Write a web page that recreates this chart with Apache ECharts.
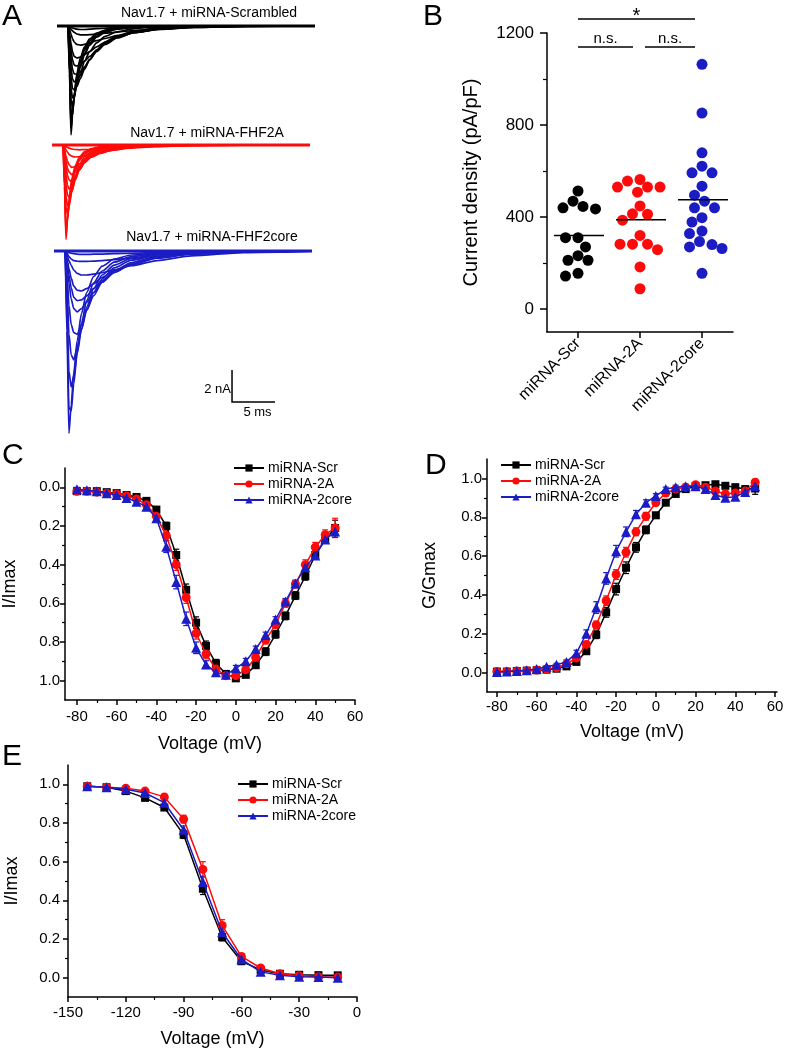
<!DOCTYPE html>
<html><head><meta charset="utf-8">
<script src="https://cdn.jsdelivr.net/npm/echarts@6/dist/echarts.min.js"></script>
<style>html,body{margin:0;padding:0;background:#fff}#c{width:787px;height:1052px}</style>
</head><body><div id="c"></div>
<script>
// ================= DATA =================
// Panel A: Na+ current traces (time in ms, current in nA)
const traceTimesScr = [0,1.28,1.45,1.63,1.8,2.0,2.3,2.7,3.2,3.8,4.6,5.6,7.0,9.0,12,16,22,30];
const tracesScr = [
 [0,0,-3.0,-6.8,-5.6,-4.3,-3.0,-2.0,-1.3,-0.8,-0.45,-0.25,-0.12,-0.05,-0.02,0,0,0],
 [0,0,-2.8,-6.4,-5.6,-4.4,-3.2,-2.2,-1.4,-0.9,-0.5,-0.28,-0.14,-0.06,-0.02,0,0,0],
 [0,0,-2.5,-6.0,-5.4,-4.4,-3.3,-2.3,-1.5,-0.95,-0.55,-0.3,-0.15,-0.06,-0.02,0,0,0],
 [0,0,-2.1,-5.4,-5.3,-4.5,-3.5,-2.5,-1.7,-1.1,-0.65,-0.36,-0.18,-0.07,-0.03,0,0,0],
 [0,0,-1.8,-4.6,-5.0,-4.5,-3.6,-2.6,-1.8,-1.2,-0.7,-0.4,-0.2,-0.08,-0.03,0,0,0],
 [0,0,-1.5,-3.9,-4.5,-4.3,-3.7,-3.0,-2.2,-1.6,-1.05,-0.65,-0.36,-0.16,-0.06,-0.02,0,0],
 [0,0,-1.2,-3.2,-3.9,-4.0,-3.8,-3.3,-2.7,-2.1,-1.5,-1.0,-0.6,-0.3,-0.12,-0.04,0,0],
 [0,0,-0.9,-2.6,-3.3,-3.5,-3.4,-3.1,-2.6,-2.1,-1.55,-1.1,-0.68,-0.35,-0.14,-0.04,0,0],
 [0,0,-0.7,-2.0,-2.7,-3.0,-3.0,-2.85,-2.55,-2.1,-1.6,-1.15,-0.75,-0.4,-0.17,-0.05,0,0],
 [0,0,-0.55,-1.5,-2.1,-2.45,-2.5,-2.4,-2.2,-1.9,-1.5,-1.1,-0.72,-0.4,-0.18,-0.06,-0.01,0],
 [0,0,-0.4,-1.1,-1.6,-1.9,-2.0,-1.95,-1.8,-1.6,-1.3,-1.0,-0.7,-0.42,-0.2,-0.07,-0.01,0],
 [0,0,-0.2,-0.5,-0.8,-1.0,-1.15,-1.2,-1.15,-1.05,-0.92,-0.78,-0.6,-0.4,-0.22,-0.09,-0.02,0],
 [0,0,-0.1,-0.2,-0.3,-0.4,-0.5,-0.55,-0.56,-0.54,-0.5,-0.45,-0.38,-0.28,-0.17,-0.08,-0.02,0],
 [0,0,-0.03,-0.08,-0.12,-0.16,-0.2,-0.22,-0.22,-0.2,-0.17,-0.14,-0.1,-0.06,-0.03,-0.01,0,0]
];
const traceTimes2A = [0,1.28,1.45,1.63,1.8,2.0,2.3,2.7,3.2,3.8,4.6,5.6,7.0,9.0,12,16,22,30];
const traces2A = [
 [0,0,-2.6,-5.9,-4.6,-3.3,-2.1,-1.3,-0.75,-0.42,-0.22,-0.11,-0.05,-0.02,0,0,0,0],
 [0,0,-2.4,-5.6,-4.7,-3.5,-2.3,-1.45,-0.85,-0.48,-0.26,-0.13,-0.06,-0.02,0,0,0,0],
 [0,0,-2.1,-5.2,-4.6,-3.6,-2.5,-1.6,-0.95,-0.55,-0.3,-0.15,-0.07,-0.03,-0.01,0,0,0],
 [0,0,-1.5,-3.9,-4.3,-3.8,-2.9,-1.95,-1.2,-0.72,-0.4,-0.21,-0.1,-0.04,-0.01,0,0,0],
 [0,0,-1.2,-3.2,-3.8,-3.6,-2.9,-2.1,-1.35,-0.85,-0.48,-0.26,-0.12,-0.05,-0.02,0,0,0],
 [0,0,-0.9,-2.5,-3.1,-3.3,-2.9,-2.2,-1.5,-0.95,-0.56,-0.31,-0.15,-0.06,-0.02,0,0,0],
 [0,0,-0.7,-1.9,-2.5,-2.75,-2.6,-2.1,-1.55,-1.05,-0.65,-0.38,-0.2,-0.08,-0.03,0,0,0],
 [0,0,-0.5,-1.4,-1.9,-2.2,-2.3,-2.0,-1.55,-1.1,-0.72,-0.44,-0.24,-0.1,-0.04,-0.01,0,0],
 [0,0,-0.35,-1.0,-1.45,-1.7,-1.85,-1.7,-1.4,-1.05,-0.75,-0.5,-0.3,-0.14,-0.06,-0.02,0,0],
 [0,0,-0.25,-0.7,-1.0,-1.25,-1.4,-1.35,-1.2,-0.98,-0.75,-0.52,-0.32,-0.16,-0.07,-0.02,0,0],
 [0,0,-0.1,-0.3,-0.45,-0.6,-0.7,-0.75,-0.72,-0.65,-0.55,-0.45,-0.33,-0.2,-0.1,-0.04,-0.01,0],
 [0,0,-0.04,-0.1,-0.15,-0.2,-0.25,-0.28,-0.3,-0.29,-0.27,-0.24,-0.2,-0.14,-0.08,-0.03,-0.01,0]
];
const traceTimes2core = [0,1.28,1.5,1.74,2.0,2.3,2.7,3.2,3.8,4.6,5.6,7.0,9.0,12,16,22,30];
const traces2core = [
 [0,0,-5,-11.4,-9.6,-7.6,-5.6,-3.9,-2.6,-1.6,-0.95,-0.5,-0.25,-0.1,-0.03,0,0],
 [0,0,-4,-9.8,-10.0,-8.3,-6.3,-4.5,-3.1,-2.0,-1.25,-0.7,-0.35,-0.14,-0.05,-0.01,0],
 [0,0,-3,-7.5,-8.5,-7.8,-6.4,-4.9,-3.5,-2.35,-1.5,-0.88,-0.46,-0.19,-0.07,-0.02,0],
 [0,0,-2,-5.2,-6.5,-6.8,-6.0,-4.9,-3.7,-2.6,-1.75,-1.05,-0.57,-0.25,-0.09,-0.02,0],
 [0,0,-1.3,-3.4,-4.6,-5.1,-5.2,-4.6,-3.7,-2.8,-1.95,-1.25,-0.72,-0.33,-0.13,-0.03,0],
 [0,0,-0.8,-2.0,-3.0,-3.6,-3.8,-3.6,-3.2,-2.6,-1.95,-1.35,-0.82,-0.4,-0.16,-0.04,0],
 [0,0,-0.6,-1.5,-2.3,-2.9,-3.1,-3.05,-2.8,-2.35,-1.85,-1.32,-0.85,-0.43,-0.18,-0.05,0],
 [0,0,-0.45,-1.1,-1.7,-2.2,-2.45,-2.5,-2.35,-2.05,-1.65,-1.22,-0.82,-0.44,-0.19,-0.05,-0.01],
 [0,0,-0.25,-0.6,-0.9,-1.2,-1.4,-1.5,-1.5,-1.45,-1.35,-1.18,-0.92,-0.6,-0.3,-0.1,-0.01],
 [0,0,-0.12,-0.35,-0.5,-0.6,-0.64,-0.65,-0.65,-0.63,-0.6,-0.54,-0.45,-0.32,-0.18,-0.07,-0.01],
 [0,0,-0.04,-0.1,-0.14,-0.17,-0.2,-0.21,-0.21,-0.2,-0.19,-0.17,-0.14,-0.1,-0.06,-0.03,0]
];
const traceTitles = ['Nav1.7 + miRNA-Scrambled','Nav1.7 + miRNA-FHF2A','Nav1.7 + miRNA-FHF2core'];
const scaleBarCurrent = 2;   // nA
const scaleBarTime = 5;      // ms

// Panel B: current density (pA/pF)
const groupsB = ['miRNA-Scr','miRNA-2A','miRNA-2core'];
const densityScr = [513,469,435,446,440,310,310,270,232,212,212,155,143];
const density2A = [563,530,530,556,530,508,448,414,412,386,320,282,282,282,258,183,88];
const density2core = [1064,852,679,621,592,592,534,495,469,440,440,378,397,339,328,293,263,270,280,155];
const medianB = [320,388,475];
const sigPairs = [[0,2],[0,1],[1,2]];
const sigLabels = ['*','n.s.','n.s.'];
const sigLevels = [1261,1139,1139];
const ticksB = [0,400,800,1200];
const minorTicksB = [200,600,1000];

// Panels C, D: voltage steps (mV)
const voltSteps = [-80,-75,-70,-65,-60,-55,-50,-45,-40,-35,-30,-25,-20,-15,-10,-5,0,5,10,15,20,25,30,35,40,45,50];
// Panel C: I/Imax
const ivScr   = [0.02,0.02,0.02,0.025,0.03,0.04,0.05,0.07,0.115,0.2,0.35,0.53,0.7,0.82,0.91,0.965,0.988,0.97,0.92,0.85,0.76,0.665,0.56,0.46,0.35,0.27,0.21];
const iv2A    = [0.02,0.02,0.025,0.03,0.035,0.045,0.06,0.09,0.15,0.25,0.4,0.57,0.755,0.862,0.94,0.974,0.974,0.943,0.88,0.79,0.71,0.6,0.5,0.4,0.31,0.245,0.21];
const iv2core = [0.01,0.015,0.02,0.03,0.04,0.055,0.075,0.1,0.16,0.307,0.49,0.68,0.83,0.917,0.957,0.97,0.936,0.9,0.836,0.764,0.684,0.59,0.497,0.414,0.353,0.27,0.228];
const ivSemScr   = [0.01,0.01,0.01,0.01,0.01,0.01,0.01,0.01,0.015,0.02,0.03,0.03,0.03,0.025,0.02,0.015,0.01,0.01,0.015,0.02,0.02,0.02,0.02,0.02,0.02,0.02,0.04];
const ivSem2A    = [0.01,0.01,0.01,0.01,0.01,0.01,0.015,0.02,0.02,0.025,0.03,0.03,0.03,0.025,0.02,0.015,0.01,0.015,0.02,0.02,0.02,0.02,0.02,0.025,0.025,0.025,0.05];
const ivSem2core = [0.01,0.01,0.01,0.01,0.015,0.015,0.015,0.02,0.02,0.03,0.035,0.035,0.03,0.02,0.015,0.01,0.015,0.015,0.015,0.015,0.015,0.015,0.015,0.02,0.02,0.02,0.03];
// Panel D: G/Gmax
const gvScr   = [0.005,0.005,0.008,0.01,0.012,0.015,0.02,0.032,0.055,0.11,0.195,0.31,0.43,0.54,0.645,0.735,0.81,0.875,0.92,0.945,0.96,0.965,0.97,0.962,0.955,0.945,0.948];
const gv2A    = [0.005,0.006,0.008,0.01,0.013,0.018,0.025,0.045,0.075,0.145,0.245,0.37,0.505,0.62,0.725,0.805,0.875,0.925,0.945,0.955,0.968,0.955,0.935,0.92,0.925,0.935,0.98];
const gv2core = [0.003,0.005,0.008,0.012,0.018,0.03,0.04,0.055,0.1,0.2,0.335,0.485,0.625,0.725,0.815,0.875,0.91,0.945,0.955,0.96,0.96,0.945,0.915,0.9,0.905,0.93,0.96];
const gvSemScr   = [0.005,0.005,0.005,0.005,0.005,0.006,0.008,0.01,0.012,0.015,0.02,0.025,0.03,0.03,0.025,0.02,0.015,0.012,0.01,0.01,0.01,0.01,0.01,0.01,0.01,0.015,0.03];
const gvSem2A    = [0.005,0.005,0.005,0.005,0.005,0.006,0.008,0.01,0.012,0.015,0.02,0.025,0.025,0.025,0.02,0.02,0.015,0.012,0.01,0.01,0.01,0.012,0.015,0.015,0.015,0.015,0.015];
const gvSem2core = [0.005,0.005,0.005,0.005,0.005,0.006,0.008,0.01,0.015,0.02,0.03,0.03,0.03,0.025,0.02,0.015,0.012,0.01,0.01,0.01,0.01,0.012,0.015,0.015,0.015,0.02,0.02];
// Panel E: steady-state inactivation
const voltInact = [-140,-130,-120,-110,-100,-90,-80,-70,-60,-50,-40,-30,-20,-10];
const inScr   = [0.99,0.985,0.965,0.93,0.88,0.74,0.46,0.21,0.085,0.04,0.02,0.015,0.013,0.012];
const in2A    = [0.99,0.985,0.98,0.965,0.935,0.82,0.56,0.27,0.11,0.05,0.02,0.01,0.005,0.003];
const in2core = [0.99,0.985,0.975,0.955,0.905,0.765,0.495,0.235,0.095,0.03,0.012,0.005,0.003,0.0];
const inSemScr   = [0.01,0.01,0.01,0.01,0.01,0.02,0.03,0.02,0.01,0.01,0.005,0.005,0.005,0.005];
const inSem2A    = [0.01,0.01,0.01,0.01,0.01,0.02,0.04,0.03,0.015,0.01,0.005,0.005,0.005,0.005];
const inSem2core = [0.01,0.01,0.01,0.01,0.01,0.02,0.03,0.02,0.01,0.01,0.005,0.005,0.005,0.005];

const seriesNames = ['miRNA-Scr','miRNA-2A','miRNA-2core'];
const tickVoltIV = [-80,-60,-40,-20,0,20,40,60];
const minorVoltIV = [-70,-50,-30,-10,10,30,50];
const tickVoltInact = [-150,-120,-90,-60,-30,0];
const minorVoltInact = [-135,-105,-75,-45,-15];
const tickFrac = [0,0.2,0.4,0.6,0.8,1.0];
const minorFrac = [0.1,0.3,0.5,0.7,0.9];

// ================= STYLE / LAYOUT =================
const FONT = 'Liberation Sans, Arial, Helvetica, sans-serif';
const COLORS = ['#000000','#ff0a0a','#1c1cc4'];
const SYMBOLS = ['rect','circle','triangle'];
const SYMSIZE = [8,9,10];

function valAxes(o){
  const main = {type:'value', gridIndex:o.grid, min:o.min, max:o.max, inverse:!!o.inverse, position:o.pos,
    name:o.name, nameLocation:'middle', nameGap:o.nameGap,
    nameTextStyle:{fontSize:o.nameSize||18, color:'#000', fontFamily:FONT},
    axisLine:{show:true, onZero:false, lineStyle:{color:'#000', width:1.5}},
    axisTick:{show:true, length:o.tickLen||5, customValues:o.ticks, lineStyle:{color:'#000', width:1.5}},
    axisLabel:{show:true, customValues:o.ticks, margin:o.margin, fontSize:o.fontSize||15, color:'#000', fontFamily:FONT, formatter:o.fmt},
    splitLine:{show:false}};
  const minor = {type:'value', gridIndex:o.grid, min:o.min, max:o.max, inverse:!!o.inverse, position:o.pos,
    axisLine:{show:false, onZero:false}, axisTick:{show:true, length:o.minorLen||3, customValues:o.minors, lineStyle:{color:'#000', width:1.2}},
    axisLabel:{show:false}, splitLine:{show:false}};
  return [main, minor];
}
const fmt1 = v => v.toFixed(1);
const fmt0 = v => String(Math.round(v));

// beeswarm layout (pixel offsets) computed from values
function beeswarm(values, pxPerUnit, diameter, step){
  const placed = [], off = new Array(values.length);
  const order = values.map((v,i)=>i).sort((a,b)=>values[b]-values[a]);
  for (const i of order){
    const y = values[i]*pxPerUnit;
    for (let k=0;k<80;k++){
      const c = k===0?0:(k%2?-1:1)*Math.ceil(k/2)*step;
      if (placed.every(p=>Math.hypot(p.x-c,p.y-y)>=diameter)){ off[i]=c; placed.push({x:c,y}); break; }
    }
  }
  return off;
}

const grids = [
  {left:57, top:10, width:258, height:144},   // A black
  {left:52, top:129, width:258, height:128},  // A red
  {left:54, top:235, width:258, height:208},  // A blue
  {left:547, top:33, width:186, height:299},  // B
  {left:64, top:468, width:291, height:232},  // C
  {left:487, top:459, width:290, height:233}, // D
  {left:68, top:765, width:289, height:232}   // E
];
const aRanges = [[-8,1],[-7,1],[-12,1]];
const xAxes = [], yAxes = [];
for (let k=0;k<3;k++){
  xAxes.push({type:'value', gridIndex:k, min:0, max:30, show:false});
  yAxes.push({type:'value', gridIndex:k, min:aRanges[k][0], max:aRanges[k][1], show:false});
}
// B
xAxes.push({type:'category', gridIndex:3, data:groupsB, position:'bottom',
  axisLine:{show:true, onZero:false, lineStyle:{color:'#000', width:1.5}},
  axisTick:{show:true, alignWithLabel:true, length:6, lineStyle:{color:'#000', width:1.5}},
  axisLabel:{rotate:45, margin:9, fontSize:16, color:'#000', fontFamily:FONT}, splitLine:{show:false}});
const bY = valAxes({grid:3, min:-100, max:1200, pos:'left', ticks:ticksB, minors:minorTicksB, tickLen:7, minorLen:4,
  margin:13, fontSize:17, fmt:fmt0, name:'Current density (pA/pF)', nameGap:66, nameSize:20});
yAxes.push(bY[0], bY[1]); // 3,4
// C
const cX = valAxes({grid:4, min:-86, max:60, pos:'bottom', ticks:tickVoltIV, minors:minorVoltIV, margin:9, fmt:fmt0, name:'Voltage (mV)', nameGap:35});
const cY = valAxes({grid:4, min:-0.1, max:1.1, inverse:true, pos:'left', ticks:tickFrac, minors:minorFrac, margin:5, fmt:fmt1, name:'I/Imax', nameGap:46});
xAxes.push(cX[0], cX[1]); yAxes.push(cY[0], cY[1]); // x4,5 y5,6
// D
const dX = valAxes({grid:5, min:-85, max:61, pos:'bottom', ticks:tickVoltIV, minors:minorVoltIV, margin:7, fmt:fmt0, name:'Voltage (mV)', nameGap:31});
const dY = valAxes({grid:5, min:-0.1, max:1.1, pos:'left', ticks:tickFrac, minors:minorFrac, margin:5, fmt:fmt1, name:'G/Gmax', nameGap:48});
xAxes.push(dX[0], dX[1]); yAxes.push(dY[0], dY[1]); // x6,7 y7,8
// E
const eX = valAxes({grid:6, min:-150, max:0, pos:'bottom', ticks:tickVoltInact, minors:minorVoltInact, margin:8, fmt:fmt0, name:'Voltage (mV)', nameGap:33});
const eY = valAxes({grid:6, min:-0.1, max:1.1, pos:'left', ticks:tickFrac, minors:minorFrac, margin:8, fmt:fmt1, name:'I/Imax', nameGap:47});
xAxes.push(eX[0], eX[1]); yAxes.push(eY[0], eY[1]); // x8,9 y9,10

const series = [];
// ---- A traces
const famTimes = [traceTimesScr, traceTimes2A, traceTimes2core];
const famTraces = [tracesScr, traces2A, traces2core];
famTraces.forEach((fam, k)=>{
  fam.forEach(sw=>{
    series.push({type:'line', xAxisIndex:k, yAxisIndex:k, silent:true, showSymbol:false, symbol:'none',
      smooth:0.25, smoothMonotone:'x',
      data: famTimes[k].map((t,i)=>[t, sw[i]]), lineStyle:{color:COLORS[k], width:1.7}, z:2});
  });
  series.push({type:'line', xAxisIndex:k, yAxisIndex:k, silent:true, symbol:'none',
    data: [[famTimes[k][0],0],[famTimes[k][famTimes[k].length-1],0]], lineStyle:{color:COLORS[k], width:2.8}, z:2});
});
// scale bar (in blue grid)
series.push({type:'custom', xAxisIndex:2, yAxisIndex:2, silent:true, data:[[20.7,-9.44]],
  renderItem:(p, api)=>{
    const t0=api.value(0), i0=api.value(1);
    const c0=api.coord([t0,i0]), cT=api.coord([t0,i0+scaleBarCurrent]), cR=api.coord([t0+scaleBarTime,i0]);
    return {type:'group', children:[
      {type:'polyline', shape:{points:[cT,c0,cR]}, style:{stroke:'#000', lineWidth:1.5, fill:null}},
      {type:'text', style:{text:scaleBarCurrent+' nA', x:c0[0]-1, y:(c0[1]+cT[1])/2+3, textAlign:'right', textVerticalAlign:'middle', fontSize:13, fontFamily:FONT, fill:'#000'}},
      {type:'text', style:{text:scaleBarTime+' ms', x:(c0[0]+cR[0])/2+4, y:c0[1]+10, textAlign:'center', textVerticalAlign:'middle', fontSize:13, fontFamily:FONT, fill:'#000'}}
    ]};
  }});

// ---- B scatter
const pxPerUnitB = 299/1300;
[densityScr, density2A, density2core].forEach((vals, g)=>{
  const off = beeswarm(vals, pxPerUnitB, 10.6, 2.5);
  series.push({type:'scatter', name:'B-'+groupsB[g], xAxisIndex:3, yAxisIndex:3, symbol:'circle', symbolSize:11,
    itemStyle:{color:COLORS[g], opacity:1}, z:3,
    data: vals.map((v,i)=>({value:[g, v], symbolOffset:[off[i],0]}))});
});
series.push({type:'custom', xAxisIndex:3, yAxisIndex:3, silent:true, z:5,
  data: medianB.map((m,g)=>[g,m]),
  renderItem:(p, api)=>{
    const c = api.coord([api.value(0), api.value(1)]);
    return {type:'line', shape:{x1:c[0]-24, y1:c[1], x2:c[0]+26, y2:c[1]}, style:{stroke:'#000', lineWidth:1.5}};
  }});
series.push({type:'custom', xAxisIndex:3, yAxisIndex:3, silent:true, z:5,
  data: sigPairs.map((pr,i)=>[pr[0], pr[1], sigLevels[i], i]),
  renderItem:(p, api)=>{
    const idx = api.value(3);
    const c1 = api.coord([api.value(0), api.value(2)]), c2 = api.coord([api.value(1), api.value(2)]);
    const x1 = c1[0] + (api.value(0) > 0 ? 5 : 0), x2 = c2[0] - 7;
    const isStar = sigLabels[idx] === '*';
    return {type:'group', children:[
      {type:'line', shape:{x1:x1, y1:c1[1], x2:x2, y2:c1[1]}, style:{stroke:'#000', lineWidth:1.5}},
      {type:'text', style:{text:sigLabels[idx], x:(x1+x2)/2, y:c1[1] - (isStar ? 2 : 8), textAlign:'center', textVerticalAlign:'middle',
        fontSize: isStar ? 20 : 15, fontFamily:FONT, fill:'#000'}}
    ]};
  }});

// ---- C, D, E line + error bars
function errRender(p, api){
  const x = api.value(0), y = api.value(1), e = api.value(2);
  const a = api.coord([x, y - e]), b = api.coord([x, y + e]);
  const col = api.visual('color');
  return {type:'group', children:[
    {type:'line', shape:{x1:a[0], y1:a[1], x2:b[0], y2:b[1]}, style:{stroke:col, lineWidth:1.2}},
    {type:'line', shape:{x1:a[0]-3, y1:a[1], x2:a[0]+3, y2:a[1]}, style:{stroke:col, lineWidth:1.2}},
    {type:'line', shape:{x1:b[0]-3, y1:b[1], x2:b[0]+3, y2:b[1]}, style:{stroke:col, lineWidth:1.2}}
  ]};
}
function addPanel(xi, yi, volts, sets, sems){
  sets.forEach((vals, k)=>{
    series.push({type:'custom', xAxisIndex:xi, yAxisIndex:yi, silent:true, z:2, itemStyle:{color:COLORS[k]},
      data: volts.map((v,i)=>[v, vals[i], sems[k][i]]), renderItem: errRender});
    series.push({type:'line', name:seriesNames[k], xAxisIndex:xi, yAxisIndex:yi, symbol:SYMBOLS[k], symbolSize:SYMSIZE[k],
      showSymbol:true, color:COLORS[k], itemStyle:{color:COLORS[k]}, lineStyle:{color:COLORS[k], width:1.5}, z:3+k,
      data: volts.map((v,i)=>[v, vals[i]])});
  });
}
addPanel(4, 5, voltSteps, [ivScr, iv2A, iv2core], [ivSemScr, ivSem2A, ivSem2core]);
addPanel(6, 7, voltSteps, [gvScr, gv2A, gv2core], [gvSemScr, gvSem2A, gvSem2core]);
addPanel(8, 9, voltInact, [inScr, in2A, in2core], [inSemScr, inSem2A, inSem2core]);

function legendAt(left, top){
  return {data: seriesNames, orient:'vertical', left:left, top:top, padding:0, itemWidth:30, itemHeight:9, itemGap:2,
    selectedMode:false, textStyle:{fontSize:14, color:'#000', fontFamily:FONT, padding:[0,0,0,-1]}};
}

function label(text, x, y, size, align){
  return {type:'text', x:x, y:y, silent:true, style:{text:text, fontSize:size, fontFamily:FONT, fill:'#000',
    textAlign: align||'left', textVerticalAlign:'middle'}};
}

const option = {
  animation:false,
  textStyle:{fontFamily:FONT},
  grid: grids.map(g=>Object.assign({containLabel:false}, g)),
  xAxis: xAxes, yAxis: yAxes,
  legend: [legendAt(233, 461), legendAt(500, 458), legendAt(237, 777)],
  series: series,
  graphic: [
    label('A', 2, 17, 30), label('B', 423, 17, 30), label('C', 2, 456, 30), label('D', 425, 466, 30), label('E', 2, 757, 30),
    label(traceTitles[0], 209, 13, 14, 'center'),
    label(traceTitles[1], 207, 133, 14, 'center'),
    label(traceTitles[2], 212, 237, 14, 'center')
  ]
};
const chart = echarts.init(document.getElementById('c'), null, {renderer:'canvas'});
chart.setOption(option);
</script></body></html>
